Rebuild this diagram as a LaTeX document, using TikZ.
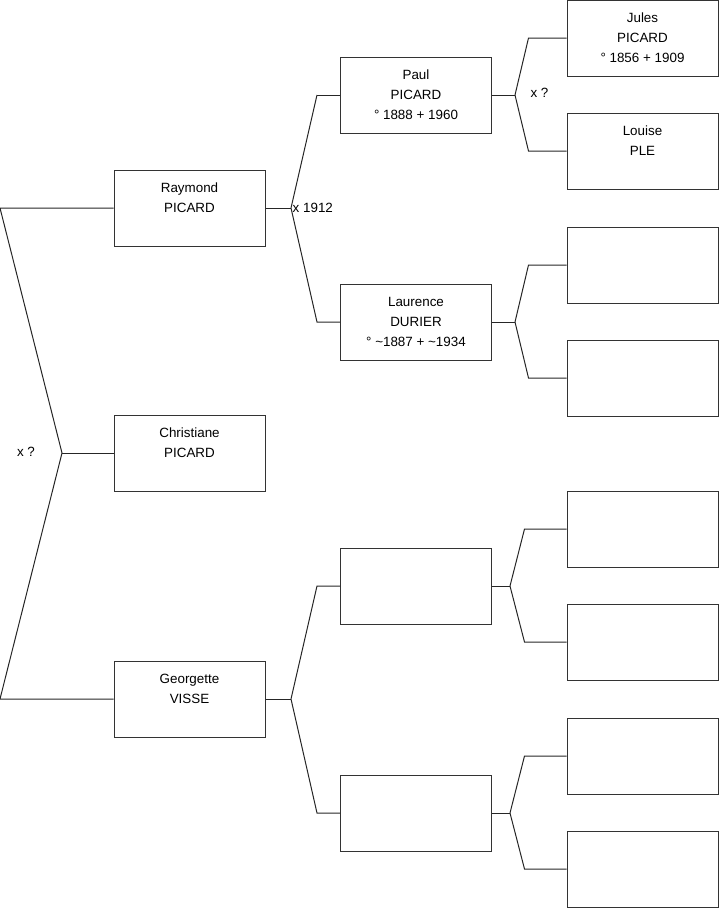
\documentclass[tikz,border=0pt]{standalone}
\usepackage{fontspec}
\setmainfont{Liberation Sans}
\tikzset{
  box/.style={draw=black!80,line width=1pt,minimum width=151pt,minimum height=76pt,inner sep=0pt,align=center,font=\fontsize{13.4}{20}\selectfont},
  link/.style={draw=black!85,line width=1pt},
  union/.style={inner sep=0pt,font=\fontsize{13.4}{14}\selectfont}
}
\begin{document}
\begin{tikzpicture}[x=1pt,y=-1pt]
\useasboundingbox (0,0) rectangle (719,908);
% generation 1
\node[box] (raymond) at (189.5,208) {Raymond\\PICARD\\~};
\node[box] (christiane) at (189.5,453) {Christiane\\PICARD\\~};
\node[box] (georgette) at (189.5,699) {Georgette\\VISSE\\~};
% generation 2
\node[box] (paul) at (416,95) {Paul\\PICARD\\° 1888 + 1960};
\node[box] (laurence) at (416,322) {Laurence\\DURIER\\° \textasciitilde1887 + \textasciitilde1934};
\node[box] (gv1) at (416,586) {};
\node[box] (gv2) at (416,813) {};
% generation 3
\node[box] (jules) at (642.5,38) {Jules\\PICARD\\° 1856 + 1909};
\node[box] (louise) at (642.5,151) {Louise\\PLE\\~};
\node[box] (ld1) at (642.5,265) {};
\node[box] (ld2) at (642.5,378) {};
\node[box] (g11) at (642.5,529) {};
\node[box] (g12) at (642.5,642) {};
\node[box] (g21) at (642.5,756) {};
\node[box] (g22) at (642.5,869) {};
% junctions
\coordinate (top0) at (0,208);
\coordinate (j0) at (62,453);
\coordinate (bot0) at (0,699);
\coordinate (j1) at (291,208);
\coordinate (j2) at (291,699);
\coordinate (j3) at (515,95);
\coordinate (j4) at (515,322);
\coordinate (j5) at (510,586);
\coordinate (j6) at (510,813);
% links
\draw[link] (raymond.west) -- (top0) -- (j0) -- (bot0) -- (georgette.west);
\draw[link] (j0) -- (christiane.west);
\draw[link] (raymond.east) -- (j1);
\draw[link] ([xshift=-23pt]paul.west) -- (paul.west);
\draw[link] (j1) -- ([xshift=-23pt]paul.west);
\draw[link] (j1) -- ([xshift=-23pt]laurence.west) -- (laurence.west);
\draw[link] (georgette.east) -- (j2);
\draw[link] (j2) -- ([xshift=-23pt]gv1.west) -- (gv1.west);
\draw[link] (j2) -- ([xshift=-23pt]gv2.west) -- (gv2.west);
\draw[link] (paul.east) -- (j3);
\draw[link] (j3) -- ([xshift=-38pt]jules.west) -- (jules.west);
\draw[link] (j3) -- ([xshift=-38pt]louise.west) -- (louise.west);
\draw[link] (laurence.east) -- (j4);
\draw[link] (j4) -- ([xshift=-38pt]ld1.west) -- (ld1.west);
\draw[link] (j4) -- ([xshift=-38pt]ld2.west) -- (ld2.west);
\draw[link] (gv1.east) -- (j5);
\draw[link] (j5) -- ([xshift=-42pt]g11.west) -- (g11.west);
\draw[link] (j5) -- ([xshift=-42pt]g12.west) -- (g12.west);
\draw[link] (gv2.east) -- (j6);
\draw[link] (j6) -- ([xshift=-42pt]g21.west) -- (g21.west);
\draw[link] (j6) -- ([xshift=-42pt]g22.west) -- (g22.west);
% unions
\node[union] (u0) at (26,452) {x ?};
\node[union,anchor=west] (u1) at (292.5,208) {x 1912};
\node[union] (u3) at (539.5,93) {x ?};
\end{tikzpicture}
\end{document}
